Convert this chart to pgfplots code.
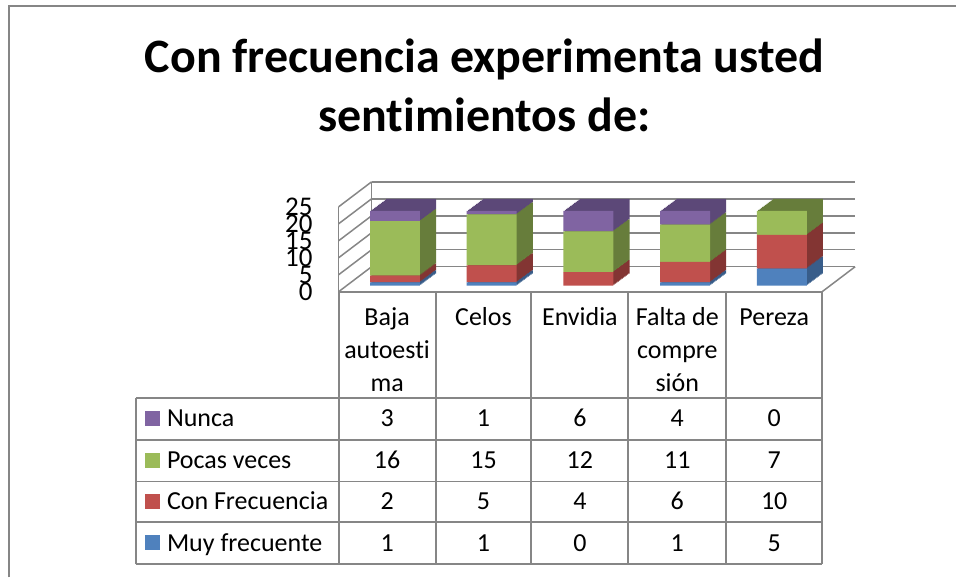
\documentclass[border=0pt]{standalone}
\usepackage{fontspec}
\setmainfont{Carlito}[RawFeature={-liga;-clig;-calt;-dlig}]
\usepackage{pgfplots}
\usepackage{pgfplotstable}
\pgfplotsset{compat=1.18}

\definecolor{cMuy}{HTML}{4F81BD}
\definecolor{cCon}{HTML}{C0504D}
\definecolor{cPocas}{HTML}{9BBB59}
\definecolor{cNunca}{HTML}{8064A2}
\definecolor{dMuy}{HTML}{385D8A}
\definecolor{dCon}{HTML}{833533}
\definecolor{dPocas}{HTML}{677D3B}
\definecolor{dNunca}{HTML}{5C4878}
\definecolor{rejilla}{HTML}{868686}

\newcommand\tabfont{\fontsize{26}{31}\selectfont}

% categorias: 0 Baja autoestima, 1 Celos, 2 Envidia, 3 Falta de compresion, 4 Pereza
\pgfplotstableread{
cat muy con pocas nunca
0   1   2   16    3
1   1   5   15    1
2   0   4   12    6
3   1   6   11    4
4   5   10  7     0
}\datos

\pgfplotsset{
  caja/.style={scale only axis, width=484pt, height=85pt, anchor=south west,
    xmin=-0.5, xmax=4.5, ymin=0, ymax=25},
  barras/.style={caja, hide axis, ybar stacked, bar width=50pt},
}

\begin{document}
\begin{tikzpicture}
\begin{scope}[x=1pt,y=1pt]
  \path (0,0) rectangle (957,578);
  \draw[line width=2pt, rejilla] (9,0) -- (9,572) -- (957,572);
  \node[font=\fontsize{48}{58}\selectfont\bfseries, anchor=base, inner sep=0pt]
    at (485,505) {Con frecuencia experimenta usted};
  \node[font=\fontsize{48}{58}\selectfont\bfseries, anchor=base, inner sep=0pt]
    at (485,446) {sent\kern0pt imientos de:};
  % pared izquierda y suelo
  \foreach \k in {0,5,...,25}
    \draw[line width=1.5pt, rejilla] (339,286+3.4*\k) -- (372,311+3.4*\k);
  \draw[line width=1.5pt, rejilla] (339,286) -- (339,371);
  \draw[line width=1.5pt, rejilla] (372,311) -- (372,396);
  \draw[line width=1.5pt, rejilla] (823,286) -- (856,311);
\end{scope}

% pared del fondo
\begin{axis}[caja, at={(372pt,311pt)}, ytick={0,5,...,25}, xtick=\empty,
  yticklabels={}, ymajorgrids, grid style={line width=1.5pt, rejilla},
  axis line style={draw=none}, major tick length=0pt]
\end{axis}

% etiquetas del eje y
\begin{axis}[caja, at={(339pt,286pt)}, ytick={0,5,...,25}, xtick=\empty,
  axis line style={draw=none}, major tick length=0pt,
  /pgf/number format/assume math mode=true,
  yticklabel style={font=\fontsize{27}{27}\selectfont, anchor=east, inner sep=0pt, xshift=-26pt}]
\end{axis}

% profundidad de las barras
\foreach \k in {12,...,1}{
  \pgfmathsetmacro\ax{347+1.35*\k}
  \pgfmathsetmacro\ay{292+1.0*\k}
  \begin{axis}[barras, at={(\ax pt,\ay pt)}]
    \addplot[fill=dMuy, draw=none] table[x=cat, y=muy] {\datos};
    \addplot[fill=dCon, draw=none] table[x=cat, y=con] {\datos};
    \addplot[fill=dPocas, draw=none] table[x=cat, y=pocas] {\datos};
    \addplot[fill=dNunca, draw=none] table[x=cat, y=nunca] {\datos};
  \end{axis}
}

% cara frontal
\begin{axis}[barras, at={(347pt,292pt)}]
  \addplot[fill=cMuy, draw=none] table[x=cat, y=muy] {\datos};
  \addplot[fill=cCon, draw=none] table[x=cat, y=con] {\datos};
  \addplot[fill=cPocas, draw=none] table[x=cat, y=pocas] {\datos};
  \addplot[fill=cNunca, draw=none] table[x=cat, y=nunca] {\datos};
\end{axis}

% tabla de datos
\begin{scope}[x=1pt,y=1pt]
  \draw[line width=2pt, rejilla] (339,286) -- (823,286);
  \foreach \y in {180,138,96,55,13}
    \draw[line width=2pt, rejilla] (136,\y) -- (823,\y);
  \draw[line width=2pt, rejilla] (136,13) -- (136,180);
  \foreach \x in {339,436,532,629,727,823}
    \draw[line width=2pt, rejilla] (\x,13) -- (\x,286);
  % cabecera
  \foreach \x/\y/\t in {387.5/252/Baja, 387.5/219/autoesti, 387.5/186/ma,
      484/252/Celos, 580.5/252/Envidia, 678/252/Falta de, 678/219/compre,
      678/186/sión, 775/252/Pereza}
    \node[font=\tabfont, anchor=base, inner sep=0pt] at (\x,\y) {\t};
  % series
  \foreach \c/\y/\t in {cNunca/151/Nunca, cPocas/109/Pocas veces,
      cCon/67.5/Con Frecuencia, cMuy/26/Muy frecuente}{
    \fill[\c] (145,\y+1) rectangle (160,\y+16);
    \node[font=\tabfont, anchor=base west, inner sep=0pt] at (167,\y) {\t};
  }
  % valores
  \foreach \c/\x in {0/387.5,1/484,2/580.5,3/678,4/775}{
    \foreach \col/\y in {nunca/151,pocas/109,con/67.5,muy/26}{
      \pgfplotstablegetelem{\c}{\col}\of\datos
      \node[font=\tabfont, anchor=base, inner sep=0pt] at (\x,\y) {\pgfplotsretval};
    }
  }
\end{scope}
\end{tikzpicture}
\end{document}
